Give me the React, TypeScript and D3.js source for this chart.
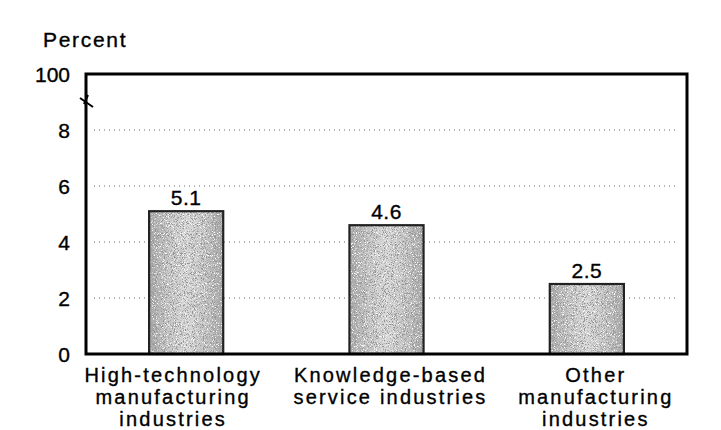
import { useEffect, useRef } from 'react'
import * as d3 from 'd3'

const categories = [
  ['High-technology', 'manufacturing', 'industries'],
  ['Knowledge-based', 'service industries'],
  ['Other', 'manufacturing', 'industries'],
]
const values = [5.1, 4.6, 2.5]
const yTicks = [0, 2, 4, 6, 8, 10]
const yTickLabels = ['0', '2', '4', '6', '8', '100']
const gridValues = [2, 4, 6, 8]

export default function App() {
  const svgRef = useRef<SVGSVGElement>(null)

  useEffect(() => {
    const W = 721, H = 430
    const pad = { l: 86, r: 34, t: 74, b: 76 }
    const font = 'Liberation Sans, Arial, sans-serif'
    // the scanned labels sit a little off their bar centres
    const labelShift = [-13, 4, 9]

    const svg = d3.select(svgRef.current)
    svg.selectAll('*').remove()
    svg.attr('width', W).attr('height', H).style('background', '#fff')

    const defs = svg.append('defs')
    const grad = defs.append('linearGradient').attr('id', 'barShade').attr('x1', 0).attr('x2', 1).attr('y1', 0).attr('y2', 0)
    ;[[0, '#a8a8a8'], [0.25, '#c6c6c6'], [0.5, '#d8d8d8'], [0.75, '#c6c6c6'], [1, '#a8a8a8']].forEach(([o, c]) => {
      grad.append('stop').attr('offset', o as number).attr('stop-color', c as string)
    })
    // speckle, like the scanned halftone
    const flt = defs.append('filter').attr('id', 'grain').attr('x', 0).attr('y', 0).attr('width', 1).attr('height', 1)
    flt.append('feTurbulence').attr('type', 'fractalNoise').attr('baseFrequency', 1.1).attr('numOctaves', 2).attr('seed', 4).attr('result', 'n')
    flt.append('feColorMatrix').attr('in', 'n').attr('type', 'matrix')
      .attr('values', '0 0 0 0 0.3  0 0 0 0 0.3  0 0 0 0 0.3  6 0 0 0 -3.1').attr('result', 'dark')
    flt.append('feColorMatrix').attr('in', 'n').attr('type', 'matrix')
      .attr('values', '0 0 0 0 1  0 0 0 0 1  0 0 0 0 1  0 -6 0 0 2.6').attr('result', 'light')
    flt.append('feComposite').attr('in', 'dark').attr('in2', 'SourceGraphic').attr('operator', 'in').attr('result', 'darkIn')
    flt.append('feComposite').attr('in', 'light').attr('in2', 'SourceGraphic').attr('operator', 'in').attr('result', 'lightIn')
    const merge = flt.append('feMerge')
    merge.append('feMergeNode').attr('in', 'SourceGraphic')
    merge.append('feMergeNode').attr('in', 'lightIn')
    merge.append('feMergeNode').attr('in', 'darkIn')

    const idx = categories.map((_, i) => String(i))
    const x = d3.scaleBand().domain(idx).range([pad.l, W - pad.r]).paddingInner(0.63).paddingOuter(0.315)
    const y = d3.scaleLinear().domain([0, 10]).range([H - pad.b, pad.t])

    const txt = (sel: any) => sel.attr('font-family', font).attr('fill', '#000').attr('stroke', '#000').attr('stroke-width', 0.35)

    // Percent label
    svg.append('text').attr('x', 43).attr('y', 47).attr('font-size', 21).attr('letter-spacing', 1.7).call(txt).text('Percent')

    // grid
    gridValues.forEach(v => {
      svg.append('line').attr('x1', pad.l + 8).attr('x2', W - pad.r - 8).attr('y1', y(v)).attr('y2', y(v))
        .attr('stroke', '#666').attr('stroke-width', 1).attr('stroke-dasharray', '1,4')
    })

    // y tick labels
    yTicks.forEach((v, i) => {
      svg.append('text').attr('x', 70).attr('y', y(v)).attr('dy', '0.36em').attr('text-anchor', 'end')
        .attr('font-size', 21).call(txt).text(yTickLabels[i])
    })

    // bars
    values.forEach((v, i) => {
      const bx = x(String(i))!
      svg.append('rect').attr('x', bx).attr('y', y(v)).attr('width', x.bandwidth()).attr('height', y(0) - y(v))
        .attr('fill', 'url(#barShade)').attr('filter', 'url(#grain)')
      svg.append('rect').attr('x', bx).attr('y', y(v)).attr('width', x.bandwidth()).attr('height', y(0) - y(v))
        .attr('fill', 'none').attr('stroke', '#222').attr('stroke-width', 2.2)
      svg.append('text').attr('x', bx + x.bandwidth() / 2).attr('y', y(v) - 6).attr('text-anchor', 'middle')
        .attr('font-size', 21).attr('letter-spacing', 0.5).call(txt).text(v.toFixed(1))
    })

    // frame
    svg.append('rect').attr('x', pad.l).attr('y', pad.t).attr('width', W - pad.l - pad.r).attr('height', H - pad.t - pad.b)
      .attr('fill', 'none').attr('stroke', '#000').attr('stroke-width', 3)

    // axis break mark
    const by = y(9)
    svg.append('path').attr('d', `M${pad.l - 6},${by - 4} L${pad.l + 7},${by + 5} M${pad.l + 2},${by - 7} L${pad.l - 2},${by + 2}`)
      .attr('stroke', '#000').attr('stroke-width', 2).attr('fill', 'none')

    // category labels
    categories.forEach((lines, i) => {
      const cx = x(String(i))! + x.bandwidth() / 2 + labelShift[i]
      lines.forEach((ln, j) => {
        svg.append('text').attr('x', cx).attr('y', y(0) + 28 + j * 22).attr('text-anchor', 'middle')
          .attr('font-size', 20).attr('letter-spacing', 2.2).call(txt).text(ln)
      })
    })
  }, [])

  return (
    <div style={{ position: 'absolute', left: 0, top: 0 }}>
      <svg ref={svgRef} style={{ display: 'block' }} />
    </div>
  )
}
